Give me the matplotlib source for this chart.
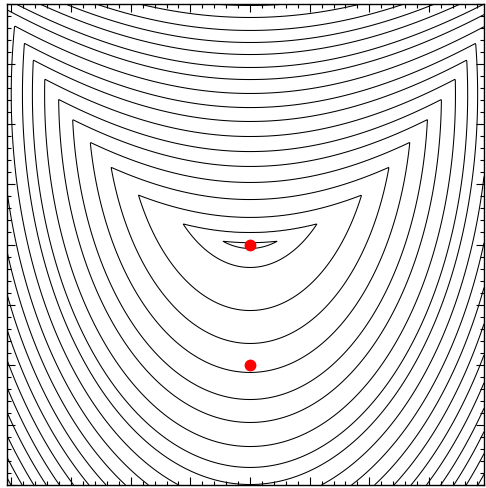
import numpy as np
import matplotlib
matplotlib.use("Agg")
import matplotlib.pyplot as plt
from matplotlib.ticker import MultipleLocator

# plot window (data units)
x_range = [-2.037, 1.961]
y_range = [-2.0, 2.0]

# red markers
dot_x = [0.0, 0.0]
dot_y = [0.0, -1.0]

# lower family: elliptic bowls centred on (0, bowl_y)
bowl_y = 1.247
bowl_aspect = 1.7
# where each contour crosses the centre line below the minimum
bottom_y = [-0.033, -0.191, -0.549, -0.823, -1.064, -1.289, -1.480, -1.680, -1.854, -1.996]
# contour values that only show up past the bottom edge
extra_levels = [4.006, 4.372, 4.737, 5.103, 5.469, 5.834, 6.200, 6.565, 6.931, 7.296, 7.662, 8.03]

# upper family: arcs (y + arc_d)^2 - arc_k * x^2 = const
arc_d = 2.275
arc_k = 1.1
# where each contour crosses the centre line above the minimum
top_y = [0.015, 0.100, 0.225, 0.374, 0.516, 0.649, 0.773, 0.898, 1.023, 1.139,
         1.256, 1.372, 1.472, 1.580, 1.680, 1.780, 1.888, 1.988, 2.090]


def interp_ext(v, xp, fp):
    # np.interp with straight-line extension at both ends
    out = np.interp(v, xp, fp)
    lo = v < xp[0]
    hi = v > xp[-1]
    out[lo] = fp[0] + (v[lo] - xp[0]) * (fp[1] - fp[0]) / (xp[1] - xp[0])
    out[hi] = fp[-1] + (v[hi] - xp[-1]) * (fp[-1] - fp[-2]) / (xp[-1] - xp[-2])
    return out


levels = [((b - bowl_y) / bowl_aspect) ** 2 for b in bottom_y] + extra_levels
levels = np.array(levels)

x = np.linspace(x_range[0], x_range[1], 700)
y = np.linspace(y_range[0], y_range[1], 700)
X, Y = np.meshgrid(x, y)

f_low = X ** 2 + ((Y - bowl_y) / bowl_aspect) ** 2
arc_val = (Y + arc_d) ** 2 - arc_k * X ** 2
top_val = (np.array(top_y) + arc_d) ** 2
f_up = interp_ext(arc_val, top_val, levels[:len(top_y)])
f = np.maximum(f_low, f_up)

fig = plt.figure(figsize=(4.86, 4.89), dpi=100)
ax = fig.add_axes([7 / 486, 3 / 489, 477 / 486, 481 / 489])
ax.contour(X, Y, f, levels=levels, colors="black", linewidths=0.75)
ax.plot(dot_x, dot_y, "o", color="red", markersize=7.5, zorder=5)

ax.set_xlim(x_range)
ax.set_ylim(y_range)
ax.xaxis.set_major_locator(MultipleLocator(0.5))
ax.xaxis.set_minor_locator(MultipleLocator(0.1))
ax.yaxis.set_major_locator(MultipleLocator(0.5))
ax.yaxis.set_minor_locator(MultipleLocator(0.1))
ax.tick_params(which="both", direction="in", top=True, right=True,
               labelbottom=False, labelleft=False, width=0.8)
ax.tick_params(which="major", length=6)
ax.tick_params(which="minor", length=3)
for s in ax.spines.values():
    s.set_linewidth(1.0)

fig.savefig("out.png", dpi=100)
